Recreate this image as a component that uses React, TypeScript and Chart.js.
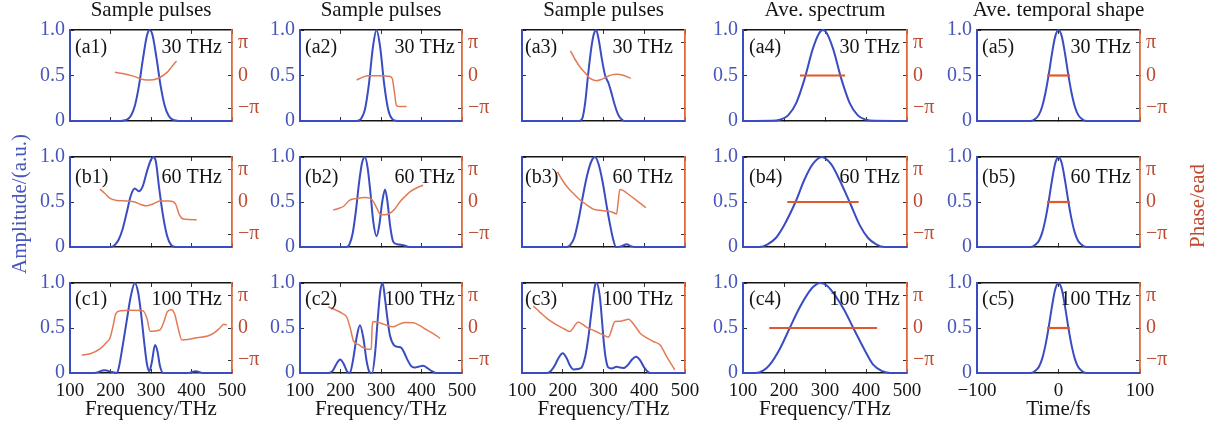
import React, { useEffect, useRef } from 'react';
import { Chart, registerables } from 'chart.js';

Chart.register(...registerables);

const W = 1212;
const H = 432;
const SERIF = '"Liberation Serif", "Times New Roman", Times, serif';
Chart.defaults.font.family = SERIF;

// ---------------- data (frequency in THz, time in fs, phase in units of π) ----------------
const A1_F = [100, 220, 230, 240, 250, 260, 270, 280, 290, 297, 304, 314, 324, 334, 344, 354, 364, 374, 500];
const A1_AMP = [0, 0, 0.003, 0.014, 0.055, 0.165, 0.38, 0.68, 0.94, 1, 0.94, 0.68, 0.38, 0.165, 0.055, 0.014, 0.003, 0, 0];
const A1_PF = [211, 230, 256, 280, 297, 315, 339, 350, 363];
const A1_PH = [0.1, 0.06, -0.02, -0.12, -0.14, -0.1, 0.09, 0.25, 0.45];

const B1_F = [100, 200, 210, 220, 230, 240, 250, 260, 270, 280, 290, 300, 306, 312, 320, 330, 340, 350, 360, 500];
const B1_AMP = [0, 0, 0.02, 0.08, 0.2, 0.38, 0.57, 0.65, 0.62, 0.68, 0.84, 0.97, 1, 0.95, 0.66, 0.34, 0.12, 0.02, 0, 0];
const B1_PF = [174, 185, 199, 215, 240, 260, 275, 289, 305, 322, 345, 360, 370, 380, 413];
const B1_PH = [0.4, 0.28, 0.11, 0.05, 0.03, 0.0, -0.08, -0.12, -0.06, 0.03, 0.03, -0.05, -0.4, -0.53, -0.55];

const C1_F = [100, 160, 185, 205, 215, 220, 230, 240, 250, 260, 268, 275, 283, 290, 296, 302, 310, 316, 322, 330, 390, 410, 430, 500];
const C1_AMP = [0, 0, 0.03, 0.01, 0, 0.05, 0.3, 0.58, 0.85, 1, 0.9, 0.68, 0.35, 0.1, 0.02, 0.12, 0.31, 0.24, 0.08, 0, 0, 0.02, 0, 0];
const C1_PF = [129, 150, 174, 190, 199, 207, 213, 225, 250, 280, 290, 298, 322, 332, 340, 350, 358, 366, 376, 390, 413, 440, 455, 470, 480, 487];
const C1_PH = [-0.84, -0.8, -0.65, -0.45, -0.3, 0.1, 0.45, 0.54, 0.55, 0.54, 0.3, -0.1, -0.06, 0.2, 0.5, 0.57, 0.45, 0.05, -0.37, -0.36, -0.3, -0.25, -0.16, 0.0, 0.12, 0.09];

const A2_F = [100, 240, 250, 260, 270, 280, 289, 298, 308, 318, 328, 340, 500];
const A2_AMP = [0, 0, 0.02, 0.12, 0.4, 0.81, 1, 0.81, 0.4, 0.12, 0.02, 0, 0];
const A2_PF = [240, 255, 270, 300, 322, 328, 333, 338, 345, 363];
const A2_PH = [-0.14, -0.05, -0.01, -0.01, -0.03, -0.1, -0.5, -0.92, -0.95, -0.95];

const B2_F = [100, 215, 222, 230, 238, 246, 253, 260, 267, 274, 281, 289, 296, 303, 310, 316, 323, 330, 340, 355, 370, 500];
const B2_AMP = [0, 0, 0.03, 0.15, 0.4, 0.72, 0.93, 1, 0.88, 0.6, 0.28, 0.12, 0.25, 0.5, 0.64, 0.5, 0.22, 0.06, 0.03, 0.02, 0, 0];
const B2_PF = [182, 195, 207, 223, 240, 260, 273, 281, 290, 298, 310, 322, 335, 347, 360, 372, 390, 404];
const B2_PH = [-0.25, -0.2, -0.14, 0.06, 0.11, 0.14, 0.11, 0.02, -0.2, -0.38, -0.4, -0.35, -0.2, 0.01, 0.18, 0.32, 0.45, 0.52];

const C2_F = [100, 170, 180, 190, 199, 208, 216, 223, 230, 240, 248, 256, 265, 272, 278, 285, 292, 298, 304, 310, 316, 322, 332, 342, 350, 358, 366, 374, 382, 392, 404, 416, 426, 437, 500];
const C2_AMP = [0, 0, 0.02, 0.1, 0.15, 0.1, 0.02, 0, 0.12, 0.4, 0.53, 0.4, 0.12, 0.01, 0, 0.2, 0.6, 0.9, 1, 0.82, 0.6, 0.42, 0.31, 0.29, 0.28, 0.22, 0.14, 0.08, 0.06, 0.07, 0.08, 0.05, 0.02, 0, 0];
const C2_PF = [170, 190, 205, 215, 224, 232, 245, 255, 265, 276, 278, 280, 290, 300, 315, 330, 345, 360, 380, 395, 413, 430, 446];
const C2_PH = [0.66, 0.55, 0.45, 0.35, 0.0, -0.4, -0.52, -0.6, -0.66, -0.66, 0.0, 0.2, 0.19, 0.15, 0.08, 0.04, 0.12, 0.17, 0.16, 0.08, -0.06, -0.18, -0.32];

const A3_F = [100, 240, 248, 255, 262, 270, 276, 282, 288, 296, 304, 312, 320, 328, 336, 344, 352, 500];
const A3_AMP = [0, 0, 0.03, 0.2, 0.5, 0.8, 0.95, 1, 0.9, 0.68, 0.5, 0.42, 0.3, 0.17, 0.07, 0.02, 0, 0];
const A3_PF = [219, 230, 242, 255, 267, 283, 295, 308, 320, 332, 350, 367];
const A3_PH = [0.76, 0.5, 0.27, 0.08, -0.09, -0.16, -0.12, -0.04, 0.02, 0.04, 0.0, -0.09];

const B3_F = [100, 210, 218, 228, 240, 250, 260, 270, 279, 288, 298, 308, 316, 324, 331, 345, 357, 367, 380, 500];
const B3_AMP = [0, 0, 0.02, 0.1, 0.33, 0.58, 0.8, 0.95, 1, 0.92, 0.72, 0.45, 0.25, 0.08, 0, 0.01, 0.03, 0.01, 0, 0];
const B3_PF = [187, 198, 210, 225, 242, 258, 275, 292, 308, 322, 332, 336, 340, 348, 357, 380, 404];
const B3_PH = [0.94, 0.7, 0.48, 0.28, 0.07, -0.08, -0.22, -0.26, -0.28, -0.32, -0.37, 0.0, 0.39, 0.36, 0.28, 0.06, -0.18];

const C3_F = [100, 160, 170, 181, 190, 200, 209, 218, 226, 238, 246, 255, 263, 271, 279, 283, 291, 296, 301, 306, 312, 320, 332, 340, 349, 360, 370, 380, 390, 400, 414, 500];
const C3_AMP = [0, 0, 0.02, 0.09, 0.17, 0.22, 0.17, 0.08, 0.04, 0.045, 0.06, 0.18, 0.4, 0.7, 0.97, 1, 0.85, 0.6, 0.33, 0.15, 0.06, 0.05, 0.07, 0.06, 0.055, 0.09, 0.15, 0.18, 0.14, 0.06, 0, 0];
const C3_PF = [128, 145, 161, 177, 193, 205, 218, 228, 238, 248, 259, 280, 300, 312, 320, 328, 340, 350, 361, 375, 390, 405, 422, 439, 455, 465, 475];
const C3_PH = [0.68, 0.48, 0.3, 0.16, 0.04, -0.04, -0.11, 0.05, 0.19, 0.12, 0.02, -0.1, -0.22, -0.29, -0.05, 0.2, 0.21, 0.24, 0.27, 0.1, -0.16, -0.3, -0.42, -0.53, -0.89, -1.1, -1.3];

const A4_F = [100, 170, 190, 210, 230, 250, 270, 285, 295, 305, 320, 340, 360, 380, 400, 420, 500];
const A4_AMP = [0, 0.002, 0.014, 0.062, 0.2, 0.46, 0.79, 0.96, 1, 0.96, 0.79, 0.46, 0.2, 0.062, 0.014, 0.002, 0];
const A4_PF = [239, 349];
const A4_PH = [0, 0];

const B4_F = [100, 140, 160, 180, 200, 228, 250, 270, 292, 315, 335, 360, 385, 405, 425, 445, 500];
const B4_AMP = [0, 0, 0.03, 0.1, 0.24, 0.5, 0.75, 0.92, 1, 0.92, 0.75, 0.5, 0.24, 0.1, 0.03, 0, 0];
const B4_PF = [208, 382];
const B4_PH = [0, 0];

const C4_F = [100, 130, 150, 165, 190, 214, 235, 255, 272, 288, 305, 325, 347, 369, 395, 418, 440, 460, 500];
const C4_AMP = [0, 0, 0.03, 0.09, 0.27, 0.5, 0.7, 0.86, 0.96, 1, 0.97, 0.86, 0.7, 0.5, 0.27, 0.09, 0.02, 0, 0];
const C4_PF = [164, 427];
const C4_PH = [0, 0];

const T5_T = [-100, -34, -28, -24, -20, -16, -12, -8, -4, 0, 4, 8, 12, 16, 20, 24, 28, 34, 100];
const T5_AMP = [0, 0, 0.027, 0.07, 0.16, 0.31, 0.51, 0.74, 0.93, 1, 0.93, 0.74, 0.51, 0.31, 0.16, 0.07, 0.027, 0, 0];
const T5_PT = [-14, 14];
const T5_PH = [0, 0];

const FREQ_TICKS = [100, 200, 300, 400, 500];
const TIME_TICKS = [-100, 0, 100];
const AMP_TICKS = [0, 0.5, 1];
const PHASE_TICKS = [-1, 0, 1];
const COL_TITLES = ['Sample pulses', 'Sample pulses', 'Sample pulses', 'Ave. spectrum', 'Ave. temporal shape'];
const ROW_BW = ['30 THz', '60 THz', '100 THz'];
const ROW_LETTERS = ['a', 'b', 'c'];

// ---------------- layout & style ----------------
const COLS: [number, number][] = [[70, 232], [300, 462], [522, 685], [743, 907], [977, 1140]];
const ROWS: [number, number][] = [[30, 121], [157, 247], [283, 373]];
const LABEL_OFF_Y = [23, 26, 21.5];
const LABEL_OFF_L = [5, 5, 3, 6, 5];
const LABEL_OFF_R = [10, 7, 12, 7, 9];
const AXIS_W = 50; // reserved width for left / right tick-label boxes
const AXIS_H = 36; // reserved height for bottom tick-label box

const BLUE = '#3a4cc2';
const BLUE_TEXT = '#4656bd';
const PHASE_LINE = '#e27b55';
const FLAT_PHASE = '#e0582c';
const RIGHT_AXIS = '#e06a3c';
const RED_TEXT = '#bd4a30';
const INK = '#141414';

type Panel = { f: number[]; a: number[]; pf: number[]; p: number[] };
const PANELS: Panel[][] = [
  [
    { f: A1_F, a: A1_AMP, pf: A1_PF, p: A1_PH },
    { f: A2_F, a: A2_AMP, pf: A2_PF, p: A2_PH },
    { f: A3_F, a: A3_AMP, pf: A3_PF, p: A3_PH },
    { f: A4_F, a: A4_AMP, pf: A4_PF, p: A4_PH },
    { f: T5_T, a: T5_AMP, pf: T5_PT, p: T5_PH },
  ],
  [
    { f: B1_F, a: B1_AMP, pf: B1_PF, p: B1_PH },
    { f: B2_F, a: B2_AMP, pf: B2_PF, p: B2_PH },
    { f: B3_F, a: B3_AMP, pf: B3_PF, p: B3_PH },
    { f: B4_F, a: B4_AMP, pf: B4_PF, p: B4_PH },
    { f: T5_T, a: T5_AMP, pf: T5_PT, p: T5_PH },
  ],
  [
    { f: C1_F, a: C1_AMP, pf: C1_PF, p: C1_PH },
    { f: C2_F, a: C2_AMP, pf: C2_PF, p: C2_PH },
    { f: C3_F, a: C3_AMP, pf: C3_PF, p: C3_PH },
    { f: C4_F, a: C4_AMP, pf: C4_PF, p: C4_PH },
    { f: T5_T, a: T5_AMP, pf: T5_PT, p: T5_PH },
  ],
];

function textPlugin(r: number, c: number) {
  return {
    id: 'panelText',
    afterDatasetsDraw(chart: any) {
      const { ctx, chartArea: a } = chart;
      const put = (text: string, x: number, y: number, size: number, color: string, align: CanvasTextAlign, rot = 0, baseline: CanvasTextBaseline = 'alphabetic') => {
        ctx.save();
        ctx.font = `${size}px ${SERIF}`;
        ctx.fillStyle = color;
        ctx.textAlign = align;
        ctx.textBaseline = baseline;
        ctx.translate(x, y);
        if (rot) ctx.rotate(rot);
        ctx.fillText(text, 0, 0);
        ctx.restore();
      };
      put(`(${ROW_LETTERS[r]}${c + 1})`, a.left + LABEL_OFF_L[c], a.top + LABEL_OFF_Y[r], 20, INK, 'left');
      put(ROW_BW[r], a.right - LABEL_OFF_R[c], a.top + LABEL_OFF_Y[r], 20, INK, 'right');
      const cx = (a.left + a.right) / 2;
      if (r === 0) put(COL_TITLES[c], cx, a.top - 14, 21, INK, 'center');
      if (r === 2) put(c === 4 ? 'Time/fs' : 'Frequency/THz', cx, a.bottom + 42, 21, INK, 'center');
      if (r === 1 && c === 0) put('Amplitude/(a.u.)', 20, (a.top + a.bottom) / 2 + 2, 21, BLUE_TEXT, 'center', -Math.PI / 2, 'middle');
      if (r === 1 && c === 4) put('Phase/ead', 1198, (a.top + a.bottom) / 2 + 4, 21, RED_TEXT, 'center', -Math.PI / 2, 'middle');
    },
  };
}

function makeConfig(r: number, c: number): any {
  const pan = PANELS[r][c];
  const isTime = c === 4;
  const xTicks = isTime ? TIME_TICKS : FREQ_TICKS;
  const xMin = xTicks[0];
  const xMax = xTicks[xTicks.length - 1];
  const flat = c >= 3;
  const [x0, x1] = COLS[c];
  const [y0, y1] = ROWS[r];
  const fitTo = (size: number) => (s: any) => {
    if (s.isHorizontal()) s.height = size;
    else s.width = size;
    s.paddingLeft = 0;
    s.paddingRight = 0;
    s.paddingTop = 0;
    s.paddingBottom = 0;
  };
  const setTicks = (vals: number[]) => (s: any) => {
    s.ticks = vals.map((v) => ({ value: v }));
  };
  const tickGrid = { display: true, drawOnChartArea: false, drawTicks: true, tickLength: -4, color: '#333', lineWidth: 1 };
  const showY = c !== 2;

  return {
    type: 'line',
    data: {
      datasets: [
        {
          data: pan.f.map((x, i) => ({ x, y: pan.a[i] })),
          xAxisID: 'x',
          yAxisID: 'y',
          borderColor: BLUE,
          borderWidth: 2,
          pointRadius: 0,
          cubicInterpolationMode: 'monotone',
          fill: false,
          clip: false,
          order: 1,
        },
        {
          data: pan.pf.map((x, i) => ({ x, y: pan.p[i] })),
          xAxisID: 'x',
          yAxisID: 'y2',
          borderColor: flat ? FLAT_PHASE : PHASE_LINE,
          borderWidth: flat ? 2.2 : 1.5,
          pointRadius: 0,
          cubicInterpolationMode: 'monotone',
          fill: false,
          clip: false,
          order: 0,
        },
      ],
    },
    options: {
      responsive: false,
      maintainAspectRatio: false,
      animation: false,
      devicePixelRatio: 1,
      events: [],
      layout: {
        padding: {
          left: x0 - AXIS_W,
          right: W - x1 - AXIS_W,
          top: y0,
          bottom: H - y1 - AXIS_H,
        },
      },
      plugins: { legend: { display: false }, tooltip: { enabled: false }, title: { display: false } },
      scales: {
        x: {
          type: 'linear',
          position: 'bottom',
          min: xMin,
          max: xMax,
          afterBuildTicks: setTicks(xTicks),
          afterFit: fitTo(AXIS_H),
          grid: tickGrid,
          border: { display: true, color: INK, width: 1.5 },
          ticks: {
            display: r === 2,
            autoSkip: false,
            maxRotation: 0,
            minRotation: 0,
            padding: 11,
            color: INK,
            font: { family: SERIF, size: 19 },
            callback: (v: number) => (v < 0 ? '\u2212' + Math.abs(v) : String(v)),
          },
        },
        x2: {
          type: 'linear',
          position: 'top',
          min: xMin,
          max: xMax,
          afterBuildTicks: setTicks(xTicks),
          afterFit: fitTo(0),
          grid: tickGrid,
          border: { display: true, color: INK, width: 1.5 },
          ticks: { display: false, autoSkip: false, maxRotation: 0 },
        },
        y: {
          type: 'linear',
          position: 'left',
          min: 0,
          max: 1,
          afterBuildTicks: setTicks(AMP_TICKS),
          afterFit: fitTo(AXIS_W),
          grid: tickGrid,
          border: { display: true, color: BLUE, width: 2 },
          ticks: {
            display: showY,
            autoSkip: false,
            padding: 9,
            color: BLUE_TEXT,
            font: { family: SERIF, size: 20 },
            callback: (v: number) => (v === 0 ? '0' : v.toFixed(1)),
          },
        },
        y2: {
          type: 'linear',
          position: 'right',
          min: -1.4,
          max: 1.4,
          afterBuildTicks: setTicks(PHASE_TICKS),
          afterFit: fitTo(AXIS_W),
          grid: tickGrid,
          border: { display: true, color: RIGHT_AXIS, width: 1.8 },
          ticks: {
            display: showY,
            autoSkip: false,
            padding: 10,
            color: RED_TEXT,
            font: { family: SERIF, size: 20 },
            callback: (v: number) => (v === 0 ? '0' : v > 0 ? '\u03c0' : '\u2212\u03c0'),
          },
        },
      },
    },
    plugins: [textPlugin(r, c)],
  };
}

function PanelChart({ r, c }: { r: number; c: number }) {
  const ref = useRef<HTMLCanvasElement>(null);
  useEffect(() => {
    const chart = new Chart(ref.current as HTMLCanvasElement, makeConfig(r, c));
    return () => chart.destroy();
  }, [r, c]);
  return (
    <canvas
      ref={ref}
      width={W}
      height={H}
      style={{ position: 'absolute', left: 0, top: 0, width: W, height: H }}
    />
  );
}

export default function App() {
  const cells: React.ReactNode[] = [];
  for (let r = 0; r < 3; r++) {
    for (let c = 0; c < 5; c++) {
      cells.push(<PanelChart key={`${r}-${c}`} r={r} c={c} />);
    }
  }
  return (
    <div style={{ position: 'absolute', left: 0, top: 0, width: W, height: H, background: '#fff', overflow: 'hidden' }}>
      {cells}
    </div>
  );
}
